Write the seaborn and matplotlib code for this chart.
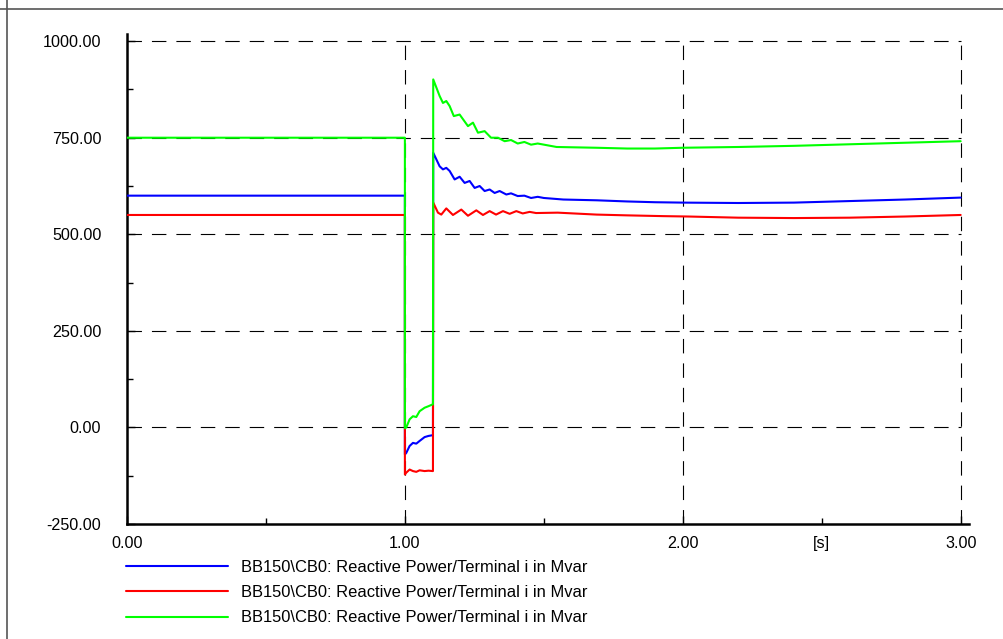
import matplotlib

matplotlib.use("Agg")
import matplotlib.pyplot as plt
import seaborn as sns
from matplotlib.lines import Line2D

LABEL = "BB150\\CB0: Reactive Power/Terminal i in Mvar"

# blue trace (time in s, reactive power in Mvar)
blue_t = [0.0, 1.0, 1.0, 1.005, 1.017, 1.029, 1.041, 1.053, 1.071, 1.085, 1.101,
          1.102, 1.125, 1.137, 1.149, 1.161, 1.179, 1.197, 1.215, 1.233, 1.251,
          1.269, 1.287, 1.305, 1.323, 1.341, 1.365, 1.382, 1.406, 1.430, 1.454,
          1.478, 1.5, 1.57, 1.69, 1.8, 1.9, 2.0, 2.2, 2.4, 2.6, 2.8, 3.0]
blue_q = [600, 600, -70, -66, -48, -40, -42, -35, -25, -22, -20,
          711, 676, 668, 672, 664, 642, 649, 633, 638, 620,
          625, 612, 616, 607, 612, 603, 606, 599, 600, 594,
          597, 594, 590, 588, 585, 583, 582, 581, 582, 586, 590, 595]

# red trace
red_t = [0.0, 1.0, 1.0, 1.005, 1.017, 1.029, 1.041, 1.053, 1.071, 1.085, 1.101,
         1.102, 1.119, 1.131, 1.149, 1.173, 1.203, 1.227, 1.257, 1.281, 1.305,
         1.328, 1.353, 1.377, 1.401, 1.424, 1.449, 1.472, 1.55, 1.69, 1.8,
         1.93, 2.02, 2.2, 2.4, 2.6, 2.8, 3.0]
red_q = [550, 550, -122, -117, -109, -113, -115, -111, -113, -112, -113,
         582, 556, 551, 567, 550, 564, 548, 562, 550, 560,
         551, 560, 553, 560, 554, 558, 555, 556, 551, 549,
         547, 546, 543, 542, 543, 546, 550]

# green trace
green_t = [0.0, 1.0, 1.0, 1.005, 1.017, 1.029, 1.041, 1.053, 1.071, 1.085, 1.101,
           1.102, 1.125, 1.137, 1.149, 1.161, 1.176, 1.197, 1.227, 1.245, 1.263,
           1.287, 1.310, 1.335, 1.359, 1.382, 1.406, 1.430, 1.454, 1.478, 1.546,
           1.69, 1.8, 1.9, 2.0, 2.2, 2.4, 2.6, 2.8, 3.0]
green_q = [750, 750, -2, 0, 21, 29, 27, 42, 51, 55, 60,
           901, 858, 840, 845, 832, 806, 810, 780, 789, 763,
           767, 750, 750, 741, 744, 735, 739, 732, 735, 726,
           724, 722, 722, 724, 726, 729, 733, 737, 741]

y_ticks = [-250, 0, 250, 500, 750, 1000]
y_minor = [-125, 125, 375, 625, 875]
x_ticks = [0, 1, 2, 3]
x_minor = [0.5, 1.5, 2.5]
x_minor_labels = ["", "", "[s]"]

sns.set_style("ticks")
plt.rcParams["font.family"] = ["Liberation Sans", "DejaVu Sans"]

W, H = 1004, 639
fig = plt.figure(figsize=(W / 100, H / 100), dpi=100)
ax = fig.add_axes([127 / W, 1 - 524 / H, (969 - 127) / W, (524 - 34) / H])

series = [(blue_t, blue_q, "#0000ff"), (red_t, red_q, "#ff0000"), (green_t, green_q, "#00ff00")]
for t, q, c in series:
    sns.lineplot(x=t, y=q, color=c, lw=1.5, label=LABEL, estimator=None, sort=False,
                 ax=ax, zorder=3)

ax.set_xlim(0, 3.03)
ax.set_ylim(-250, 1018.5)
ax.set_yticks(y_ticks, [f"{v:.2f}" for v in y_ticks])
ax.set_yticks(y_minor, minor=True)
ax.set_xticks(x_ticks, [f"{v:.2f}" for v in x_ticks])
ax.set_xticks(x_minor, x_minor_labels, minor=True)

# dashed grid limited to the data box (0..3 s, -250..1000 Mvar)
dash = (0, (13, 9))
ax.grid(False)
ax.hlines(y_ticks[1:], x_ticks[0], x_ticks[-1], color="black", lw=0.8, linestyle=dash, zorder=1)
ax.vlines(x_ticks[1:], y_ticks[0], y_ticks[-1], color="black", lw=0.8, linestyle=dash, zorder=1)

for side in ("top", "right"):
    ax.spines[side].set_visible(False)
for side in ("left", "bottom"):
    ax.spines[side].set_linewidth(1.8)
    ax.spines[side].set_color("black")

ax.tick_params(which="both", direction="in", colors="black", labelcolor="black",
               labelsize=11.6, width=1)
ax.tick_params(which="major", length=6)
ax.tick_params(which="minor", length=4)
ax.tick_params(axis="y", which="both", pad=18.5)
ax.tick_params(axis="x", which="both", pad=8.5)
ax.set_xlabel("")
ax.set_ylabel("")

ax.legend(loc="upper left", bbox_to_anchor=(126 / W, 1 - 560 / H),
          bbox_transform=fig.transFigure, frameon=False, fontsize=11.9,
          handlelength=6.2, handletextpad=0.77, labelspacing=0.62,
          borderpad=0, borderaxespad=0, labelcolor="black")

# outer frame of the plot page
fig.add_artist(Line2D([0, 1], [1 - 9 / H] * 2, transform=fig.transFigure, color="#555555", lw=1.2))
fig.add_artist(Line2D([7 / W] * 2, [0, 1], transform=fig.transFigure, color="#555555", lw=1.2))

fig.savefig("out.png", dpi=100)
